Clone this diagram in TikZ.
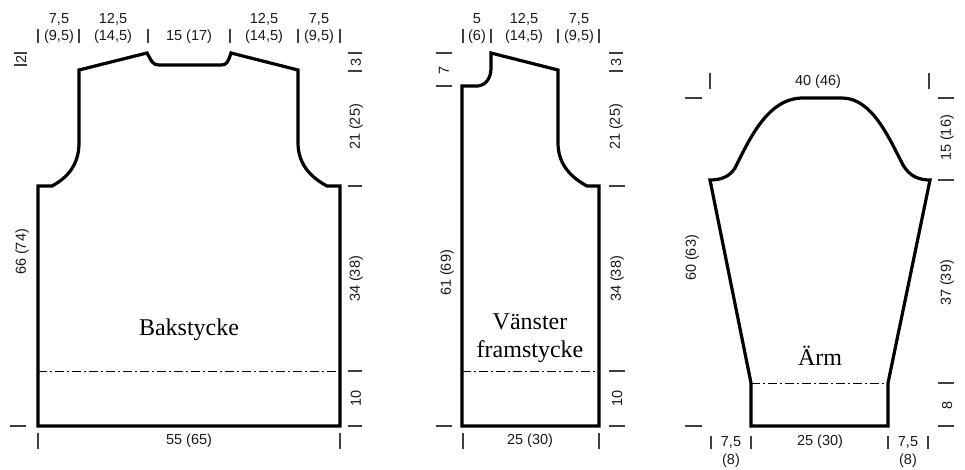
\documentclass[tikz,border=0pt]{standalone}
\usepackage{fontspec}
\setmainfont{Liberation Sans}
\newfontfamily\serifnm{Liberation Serif}
\begin{document}
\begin{tikzpicture}[x=1pt,y=-1pt,
  outline/.style={line width=3.2pt,line join=miter,black},
  tickln/.style={line width=1.1pt,black!75},
  dashdot/.style={line width=0.9pt,dash pattern=on 9pt off 3pt on 2pt off 3pt},
  lbl/.style={font=\fontsize{14.5}{16}\selectfont,inner sep=0pt,text=black!90},
  rlbl/.style={lbl,rotate=90},
  piece/.style={font=\serifnm\fontsize{24}{30}\selectfont,inner sep=0pt,align=center}]
\useasboundingbox (0,0) rectangle (965,469);

% ---------------- Bakstycke ----------------
\draw[outline] (38,426) -- (38,186) -- (52,186)
  .. controls (67,178) and (79,165) .. (79,143) -- (79,70) -- (147,53)
  .. controls (152,62) and (153,65) .. (159,65) -- (221,65)
  .. controls (227,65) and (228,62) .. (231,53) -- (298,70) -- (298,143)
  .. controls (298,165) and (312,178) .. (327,186) -- (340,186) -- (340,426) -- cycle;
\draw[dashdot] (38,371) -- (340,371);
\node[piece] (bak) at (189,330) {Bakstycke};

% top ticks
\foreach \x in {38,79,148,230,298,340} \draw[tickln] (\x,29) -- (\x,43);
\node[lbl] (b1a) at (59,19) {7,5};
\node[lbl] (b1b) at (59,37) {(9,5)};
\node[lbl] (b2a) at (113,19) {12,5};
\node[lbl] (b2b) at (113,37) {(14,5)};
\node[lbl] (b3) at (189,37) {15 (17)};
\node[lbl] (b4a) at (264,19) {12,5};
\node[lbl] (b4b) at (264,37) {(14,5)};
\node[lbl] (b5a) at (319,19) {7,5};
\node[lbl] (b5b) at (319,37) {(9,5)};
% left
\draw[tickln] (14,53) -- (27,53);
\draw[tickln] (14,65) -- (27,65);
\node[rlbl] (b2) at (21,59) {2};
\node[rlbl] (b66) at (22,252) {66 (74)};
\draw[tickln] (10,426) -- (26,426);
% right
\draw[tickln] (348,53) -- (362,53);
\draw[tickln] (348,71) -- (362,71);
\node[rlbl] (b3r) at (356,62) {3};
\node[rlbl] (b21) at (356,127) {21 (25)};
\draw[tickln] (348,186) -- (362,186);
\node[rlbl] (b34) at (356,279) {34 (38)};
\draw[tickln] (348,371) -- (362,371);
\node[rlbl] (b10) at (356,398) {10};
\draw[tickln] (348,426) -- (362,426);
% bottom
\draw[tickln] (38,433) -- (38,449);
\draw[tickln] (340,433) -- (340,449);
\node[lbl] (b55) at (189,441) {55 (65)};

% ---------------- Vänster framstycke ----------------
\draw[outline] (462,426) -- (462,86) -- (478,86)
  .. controls (486,85) and (491,78) .. (491,68) -- (491,53) -- (558,70) -- (558,143)
  .. controls (558,165) and (572,178) .. (587,186) -- (599,186) -- (599,426) -- cycle;
\draw[dashdot] (462,371) -- (599,371);
\node[piece] (van) at (530,322) {Vänster};
\node[piece] (fram) at (530,352) {framstycke};

\foreach \x in {463,491,558,599} \draw[tickln] (\x,29) -- (\x,43);
\node[lbl] (f1a) at (477,19) {5};
\node[lbl] (f1b) at (477,37) {(6)};
\node[lbl] (f2a) at (524,19) {12,5};
\node[lbl] (f2b) at (524,37) {(14,5)};
\node[lbl] (f3a) at (579,19) {7,5};
\node[lbl] (f3b) at (579,37) {(9,5)};
% left
\draw[tickln] (436,53) -- (452,53);
\draw[tickln] (436,86) -- (452,86);
\node[rlbl] (f7) at (444,70) {7};
\node[rlbl] (f61) at (447,273) {61 (69)};
\draw[tickln] (436,426) -- (452,426);
% right
\draw[tickln] (609,53) -- (623,53);
\draw[tickln] (609,71) -- (623,71);
\node[rlbl] (f3r) at (616,62) {3};
\node[rlbl] (f21) at (616,127) {21 (25)};
\draw[tickln] (609,186) -- (625,186);
\node[rlbl] (f34) at (617,279) {34 (38)};
\draw[tickln] (609,371) -- (625,371);
\node[rlbl] (f10) at (617,398) {10};
\draw[tickln] (609,426) -- (625,426);
% bottom
\draw[tickln] (463,433) -- (463,449);
\draw[tickln] (599,433) -- (599,449);
\node[lbl] (f25) at (530,441) {25 (30)};

% ---------------- Ärm ----------------
\draw[outline] (751,426) -- (751,383) -- (710,180)
  .. controls (722,180) and (730,176) .. (735,168)
  .. controls (750,138) and (768,98) .. (803,98) -- (842,98)
  .. controls (872,98) and (889,138) .. (903,165)
  .. controls (910,177) and (920,180) .. (930,180)
  -- (888,383) -- (888,426) -- cycle;
\draw[dashdot] (751,383) -- (888,383);
\node[piece] (arm) at (820,356) {Ärm};

% top
\draw[tickln] (710,73) -- (710,89);
\draw[tickln] (929,73) -- (929,89);
\node[lbl] (a40) at (818,82) {40 (46)};
% left
\draw[tickln] (685,98) -- (702,98);
\node[rlbl] (a60) at (692,258) {60 (63)};
\draw[tickln] (685,426) -- (702,426);
% right
\draw[tickln] (938,98) -- (954,98);
\node[rlbl] (a15) at (947,138) {15 (16)};
\draw[tickln] (938,180) -- (954,180);
\node[rlbl] (a37) at (947,283) {37 (39)};
\draw[tickln] (938,383) -- (954,383);
\node[rlbl] (a8) at (947,405) {8};
\draw[tickln] (938,426) -- (954,426);
% bottom
\foreach \x in {711,751,888,928} \draw[tickln] (\x,436) -- (\x,449);
\node[lbl] (a75a) at (731,442) {7,5};
\node[lbl] (a8a) at (731,461) {(8)};
\node[lbl] (a25) at (820,442) {25 (30)};
\node[lbl] (a75b) at (908,442) {7,5};
\node[lbl] (a8b) at (908,461) {(8)};
\end{tikzpicture}
\end{document}
